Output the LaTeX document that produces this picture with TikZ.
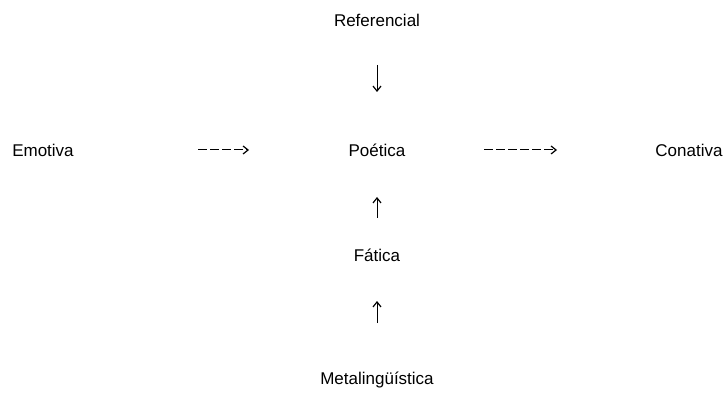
\documentclass[tikz,border=0pt]{standalone}
\usepackage{fontspec}
\setmainfont{Liberation Sans}
\usetikzlibrary{arrows.meta}
\begin{document}
\begin{tikzpicture}[x=1pt,y=-1pt,
  lbl/.style={inner sep=0pt,font=\fontsize{17}{20}\selectfont},
  arr/.style={line width=1pt,-{Straight Barb[length=5pt,width=8pt,line width=1.2pt]}},
  dsh/.style={arr,dash pattern=on 9pt off 3pt}]
\useasboundingbox (0,0) rectangle (727,403);
\node[lbl] (ref) at (377,20) {Referencial};
\node[lbl] (emo) at (43,150) {Emotiva};
\node[lbl] (poe) at (377,150) {Poética};
\node[lbl] (con) at (689,150) {Conativa};
\node[lbl] (fat) at (377,255) {Fática};
\node[lbl] (met) at (377,380) {Metalingüística};
\draw[arr,shorten <=45pt,shorten >=58pt] (ref.center) -- (poe.center);
\draw[dsh,shorten <=155pt,shorten >=128pt] (emo.center) -- (poe.center);
\draw[dsh,shorten <=107pt,shorten >=132pt] (poe.center) -- (con.center);
\draw[arr,shorten <=37pt,shorten >=47pt] (fat.center) -- (poe.center);
\draw[arr,shorten <=57pt,shorten >=46pt] (met.center) -- (fat.center);
\end{tikzpicture}
\end{document}
